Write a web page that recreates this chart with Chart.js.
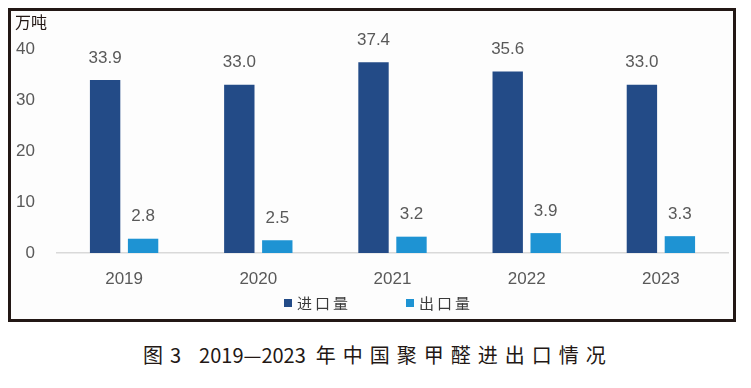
<!DOCTYPE html>
<html>
<head>
<meta charset="utf-8">
<script src="https://cdn.jsdelivr.net/npm/chart.js@4.4.1/dist/chart.umd.min.js"></script>
<style>
  html, body { margin: 0; padding: 0; background: #fff; }
  body { width: 751px; height: 388px; position: relative; overflow: hidden; }
  #box { position: absolute; left: 8px; top: 8px; width: 722px; height: 308px; border: 3px solid #231815; background: #fdfdfd; }
  #box canvas { display: block; }
  #caption { position: absolute; left: 143px; top: 340px; white-space: nowrap;
    font-family: "Noto Sans CJK SC", sans-serif; font-size: 20px; color: #231815; }
  #caption .cn { letter-spacing: 7px; }
</style>
</head>
<body>
<div id="box"><canvas id="chart" width="722" height="308"></canvas></div>
<div id="caption"><span style="margin-right:7px">图</span><span style="margin-right:18px">3</span><span style="margin-right:10px">2019—2023</span><span class="cn">年中国聚甲醛进出口情况</span></div>
<script>
// 数据
const years = ['2019', '2020', '2021', '2022', '2023'];
const importVals = [33.9, 33.0, 37.4, 35.6, 33.0];
const exportVals = [2.8, 2.5, 3.2, 3.9, 3.3];
const seriesNames = ['进口量', '出口量'];
const yTicks = [0, 10, 20, 30, 40];

const numFont = '"Liberation Sans", Arial, sans-serif';
const grey = '#595959';

// 柱顶数值、单位和图例
const extras = {
    id: 'extras',
    afterDatasetsDraw(chart) {
        const ctx = chart.ctx;
        ctx.save();
        ctx.fillStyle = grey;
        ctx.font = '17px ' + numFont;
        ctx.textAlign = 'center';
        ctx.textBaseline = 'middle';
        chart.data.datasets.forEach((ds, i) => {
            chart.getDatasetMeta(i).data.forEach((bar, j) => {
                ctx.fillText(ds.data[j].toFixed(1), bar.x, bar.y - 22);
            });
        });

        // 单位
        ctx.fillStyle = '#231815';
        ctx.font = '16px "Noto Sans CJK SC", sans-serif';
        ctx.textAlign = 'left';
        ctx.fillText('万吨', 4, 11);

        // 图例
        ctx.font = '15px "Noto Sans CJK SC", sans-serif';
        ctx.letterSpacing = '3px';
        const y = 292;
        let x = 273;
        chart.data.datasets.forEach(ds => {
            ctx.fillStyle = ds.backgroundColor;
            ctx.fillRect(x, y - 4, 8, 8);
            ctx.fillStyle = '#3a3a3a';
            ctx.fillText(ds.label, x + 13, y);
            x += 122;
        });
        ctx.restore();
    }
};

new Chart(document.getElementById('chart'), {
    type: 'bar',
    data: {
        labels: years,
        datasets: [{
            label: seriesNames[0],
            data: importVals,
            backgroundColor: '#234b87'
        }, {
            label: seriesNames[1],
            data: exportVals,
            backgroundColor: '#1e93d3'
        }]
    },
    options: {
        responsive: false,
        animation: false,
        categoryPercentage: 0.566,
        barPercentage: 0.8,
        layout: { padding: { left: 0, right: 5, top: 38, bottom: 24 } },
        plugins: {
            legend: { display: false },
            tooltip: { enabled: false }
        },
        scales: {
            x: {
                grid: { display: false },
                border: { display: true, color: '#d9d9d9', width: 1.5 },
                ticks: { color: grey, padding: 8, font: { family: numFont, size: 17 } },
                afterFit(scale) { scale.height = 42; }
            },
            y: {
                min: 0,
                max: 40,
                afterBuildTicks(scale) { scale.ticks = yTicks.map(v => ({ value: v })); },
                grid: { display: false, drawTicks: false },
                border: { display: false },
                ticks: { color: grey, padding: 22, font: { family: numFont, size: 17 } },
                afterFit(scale) { scale.width = 46; }
            }
        }
    },
    plugins: [extras]
});
</script>
</body>
</html>
